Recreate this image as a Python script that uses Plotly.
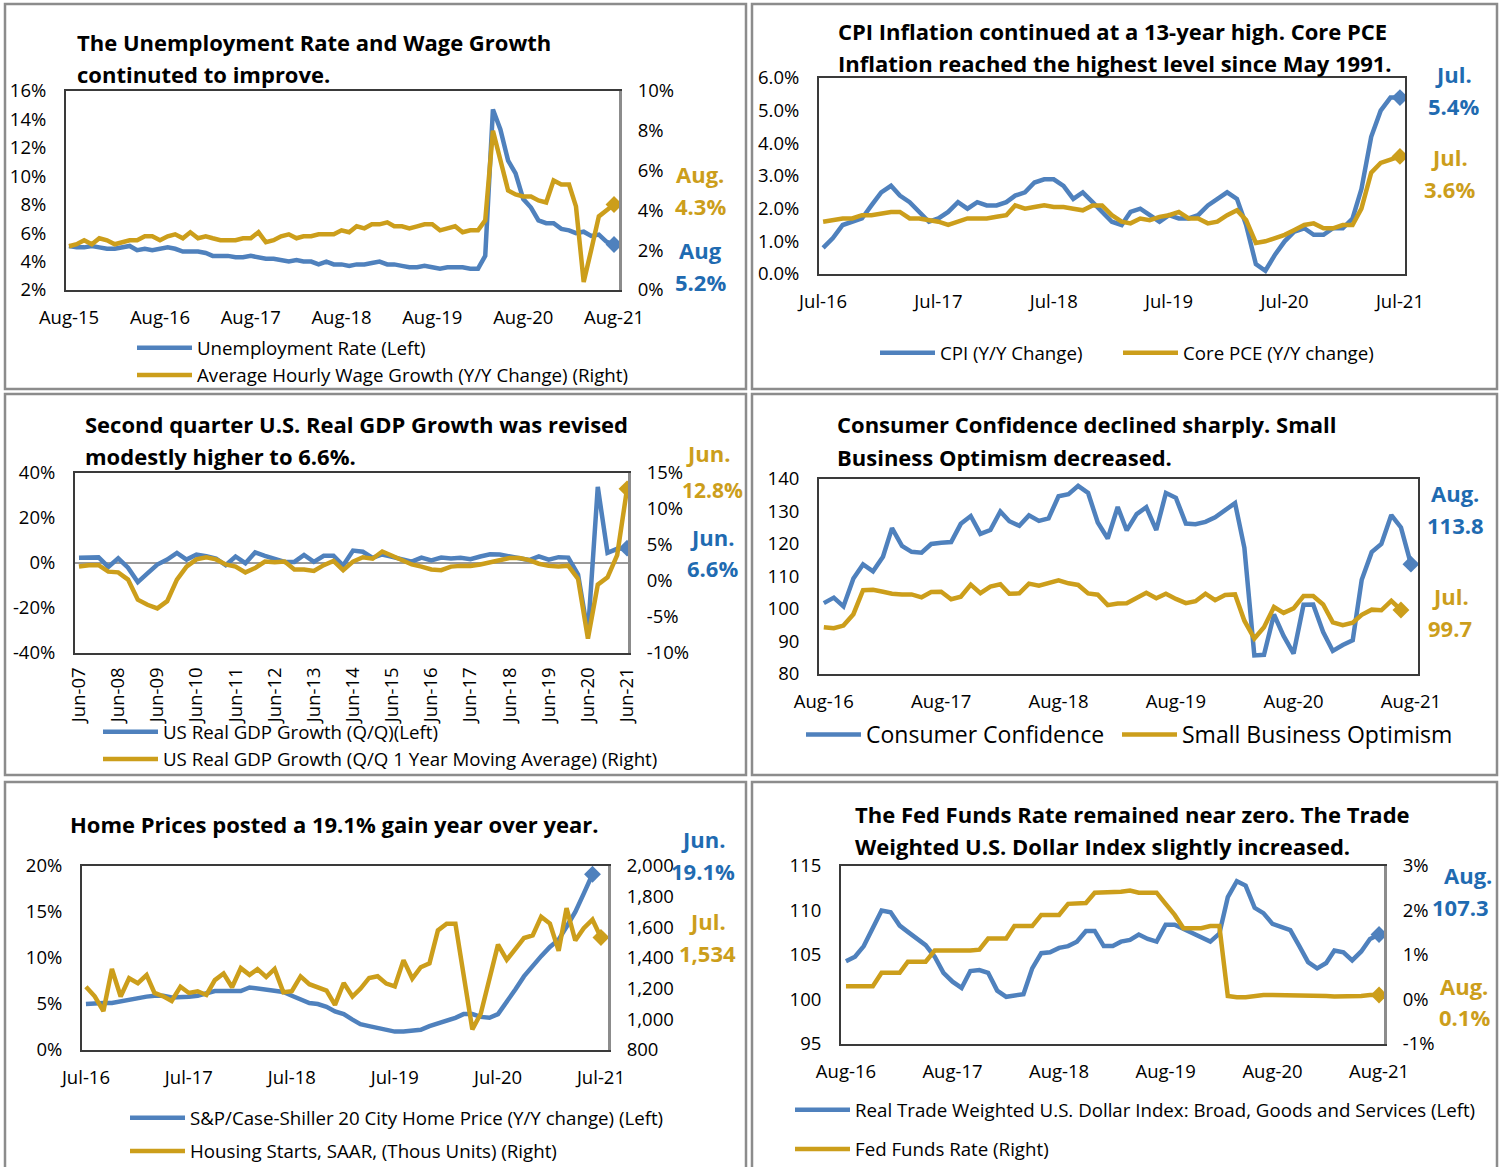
import pandas as pd
import plotly.graph_objects as go

W, H = 1501, 1167
FONT = "Open Sans"
BLUE = "#4F81BD"
GOLD = "#CC9E1B"
BLUE_TXT = "#1F6BB1"
GOLD_TXT = "#CC9E1B"

# ---------------- Panel 1: Unemployment & wages (Aug-15 .. Aug-21)
p1_dates = pd.date_range("2015-08-01", periods=73, freq="MS")
unemployment_rate = [5.1, 5.0, 5.0, 5.1, 5.0,
                     4.9, 4.9, 5.0, 5.1, 4.8, 4.9, 4.8, 4.9, 5.0, 4.9, 4.7, 4.7,
                     4.7, 4.6, 4.4, 4.4, 4.4, 4.3, 4.3, 4.4, 4.3, 4.2, 4.2, 4.1,
                     4.0, 4.1, 4.0, 4.0, 3.8, 4.0, 3.8, 3.8, 3.7, 3.8, 3.8, 3.9,
                     4.0, 3.8, 3.8, 3.7, 3.6, 3.6, 3.7, 3.6, 3.5, 3.6, 3.6, 3.6,
                     3.5, 3.5, 4.4, 14.7, 13.3, 11.1, 10.2, 8.4, 7.8, 6.9, 6.7, 6.7,
                     6.3, 6.2, 6.0, 6.1, 5.8, 5.9, 5.4, 5.2]
wage_growth = [2.2, 2.3, 2.5, 2.3, 2.6,
               2.5, 2.3, 2.4, 2.5, 2.5, 2.7, 2.7, 2.5, 2.7, 2.8, 2.6, 2.9,
               2.6, 2.7, 2.6, 2.5, 2.5, 2.5, 2.6, 2.6, 2.9, 2.4, 2.5, 2.7,
               2.8, 2.6, 2.7, 2.7, 2.8, 2.8, 2.8, 3.0, 2.9, 3.2, 3.1, 3.3,
               3.3, 3.4, 3.2, 3.2, 3.1, 3.2, 3.3, 3.3, 3.0, 3.1, 3.2, 2.9,
               3.0, 3.0, 3.5, 8.0, 6.6, 5.0, 4.8, 4.7, 4.7, 4.5, 4.4, 5.5,
               5.3, 5.3, 4.2, 0.4, 2.0, 3.7, 4.0, 4.3]
p1_left_ticks = [2, 4, 6, 8, 10, 12, 14, 16]
p1_left_labels = ["2%", "4%", "6%", "8%", "10%", "12%", "14%", "16%"]
p1_right_ticks = [0, 2, 4, 6, 8, 10]
p1_right_labels = ["0%", "2%", "4%", "6%", "8%", "10%"]

# ---------------- Panel 2: CPI & core PCE (Jul-16 .. Jul-21)
p2_dates = pd.date_range("2016-07-01", periods=61, freq="MS")
cpi_yoy = [0.8, 1.1, 1.5, 1.6, 1.7, 2.1,
           2.5, 2.7, 2.4, 2.2, 1.9, 1.6, 1.7, 1.9, 2.2, 2.0, 2.2, 2.1,
           2.1, 2.2, 2.4, 2.5, 2.8, 2.9, 2.9, 2.7, 2.3, 2.5, 2.2, 1.9,
           1.6, 1.5, 1.9, 2.0, 1.8, 1.6, 1.8, 1.7, 1.7, 1.8, 2.1, 2.3,
           2.5, 2.3, 1.5, 0.3, 0.1, 0.6, 1.0, 1.3, 1.4, 1.2, 1.2, 1.4,
           1.4, 1.7, 2.6, 4.2, 5.0, 5.4, 5.4]
core_pce_yoy = [1.6, 1.65, 1.7, 1.7, 1.8, 1.8,
                1.85, 1.9, 1.9, 1.7, 1.7, 1.65, 1.6, 1.5, 1.6, 1.7, 1.7, 1.7,
                1.75, 1.8, 2.1, 2.0, 2.05, 2.1, 2.05, 2.05, 2.0, 1.95, 2.1, 2.1,
                1.8, 1.6, 1.55, 1.7, 1.65, 1.75, 1.8, 1.9, 1.7, 1.7, 1.55, 1.6,
                1.8, 1.95, 1.65, 0.95, 1.0, 1.1, 1.2, 1.35, 1.5, 1.55, 1.4, 1.4,
                1.5, 1.5, 2.0, 3.1, 3.4, 3.5, 3.6]
p2_ticks = [0, 1, 2, 3, 4, 5, 6]
p2_labels = ["0.0%", "1.0%", "2.0%", "3.0%", "4.0%", "5.0%", "6.0%"]

# ---------------- Panel 3: GDP (quarterly Jun-07 .. Jun-21)
p3_dates = pd.date_range("2007-06-01", periods=57, freq="3MS")
gdp_qq = [2.3, 2.2, 2.5,
          -1.7, 2.1, -2.1, -8.5,
          -4.6, -0.7, 1.5, 4.5,
          1.5, 3.7, 3.0, 2.0,
          -1.0, 2.9, -0.1, 4.7,
          3.2, 1.7, 0.5, 0.5,
          3.6, 0.5, 3.2, 3.2,
          -1.1, 5.5, 5.0, 2.3,
          3.8, 2.7, 1.5, 0.6,
          2.4, 1.2, 2.4, 2.0,
          2.3, 1.7, 2.9, 3.9,
          3.8, 2.7, 2.1, 1.3,
          2.9, 1.5, 2.6, 2.4,
          -5.1, -31.2, 33.8, 4.5,
          6.3, 6.6]
gdp_ma = [2.0, 2.2, 2.2, 1.3, 1.2, 0.2, -2.6, -3.3, -3.8, -2.8,
          0.2, 2.0, 3.0, 3.3, 3.0, 2.3, 2.0, 1.2, 1.8, 2.7,
          2.6, 2.7, 1.6, 1.6, 1.4, 2.2, 2.8, 1.5, 2.7, 3.3,
          3.1, 4.1, 3.5, 2.9, 2.3, 2.0, 1.6, 1.5, 2.0, 2.1,
          2.1, 2.3, 2.6, 2.9, 3.2, 3.2, 2.9, 2.4, 2.1, 2.0,
          2.1, 0.3, -8.0, -0.5, 0.5, 3.6, 12.8]
p3_left_ticks = [-40, -20, 0, 20, 40]
p3_left_labels = ["-40%", "-20%", "0%", "20%", "40%"]
p3_right_ticks = [-10, -5, 0, 5, 10, 15]
p3_right_labels = ["-10%", "-5%", "0%", "5%", "10%", "15%"]

# ---------------- Panel 4: Confidence (Aug-16 .. Aug-21)
p4_dates = pd.date_range("2016-08-01", periods=61, freq="MS")
consumer_confidence = [101.8, 103.5, 100.8, 109.4, 113.7,
                       111.6, 116.1, 124.9, 119.4, 117.6, 117.3, 120.0, 120.4, 120.6, 126.2, 128.6, 123.1,
                       124.3, 130.0, 127.0, 125.6, 128.8, 127.1, 127.9, 134.7, 135.3, 137.9, 135.7, 126.6,
                       121.7, 131.4, 124.2, 129.2, 131.3, 124.3, 135.7, 134.2, 126.3, 126.1, 126.8, 128.2,
                       130.4, 132.6, 118.8, 85.7, 85.9, 98.3, 91.7, 86.3, 101.3, 101.4, 92.9, 87.1,
                       88.9, 90.4, 109.0, 117.5, 120.0, 128.9, 125.1, 113.8]
small_business_optimism = [94.4, 94.1, 94.9, 98.4, 105.8,
                           105.9, 105.3, 104.7, 104.5, 104.5, 103.6, 105.2, 105.3, 103.0, 103.8, 107.5, 104.9,
                           106.9, 107.6, 104.7, 104.8, 107.8, 107.2, 107.9, 108.8, 107.9, 107.4, 104.8, 104.4,
                           101.2, 101.7, 101.8, 103.5, 105.0, 103.3, 104.7, 103.1, 101.8, 102.4, 104.7, 102.7,
                           104.3, 104.5, 96.4, 90.9, 94.4, 100.6, 98.8, 100.2, 104.0, 104.0, 101.4, 95.9,
                           95.0, 95.8, 98.2, 99.8, 99.6, 102.5, 99.7]
p4_ticks = [80, 90, 100, 110, 120, 130, 140]
p4_labels = ["80", "90", "100", "110", "120", "130", "140"]

# ---------------- Panel 5: Home prices & housing starts (Jul-16 .. Jul-21)
p5_dates = pd.date_range("2016-07-01", periods=61, freq="MS")
case_shiller_yoy = [5.0, 5.1, 5.1, 5.1, 5.3, 5.5,
                    5.7, 5.8, 5.9, 5.9, 5.7, 5.7, 5.8, 5.9, 6.2, 6.4, 6.4, 6.4,
                    6.4, 6.8, 6.7, 6.6, 6.4, 6.3, 5.9, 5.5, 5.1, 5.0, 4.7, 4.2,
                    3.9, 3.3, 2.8, 2.6, 2.4, 2.1, 2.0, 2.0, 2.1, 2.2, 2.6, 2.9,
                    3.1, 3.5, 3.9, 3.9, 3.6, 3.5, 3.9, 5.2, 6.6, 8.0, 9.2, 10.2,
                    11.2, 12.0, 13.4, 15.0, 17.0, 19.1]
housing_starts = [1212, 1150, 1054, 1328, 1149, 1268,
                  1236, 1289, 1172, 1150, 1120, 1213, 1172, 1183, 1159, 1256, 1299, 1209,
                  1334, 1290, 1327, 1276, 1329, 1177, 1184, 1280, 1229, 1209, 1187, 1094,
                  1237, 1149, 1199, 1270, 1281, 1233, 1215, 1386, 1266, 1340, 1365, 1580,
                  1624, 1624, 1276, 934, 1038, 1273, 1487, 1388, 1459, 1530, 1547, 1669,
                  1625, 1447, 1725, 1514, 1594, 1650, 1534]
p5_left_ticks = [0, 5, 10, 15, 20]
p5_left_labels = ["0%", "5%", "10%", "15%", "20%"]
p5_right_ticks = [800, 1000, 1200, 1400, 1600, 1800, 2000]
p5_right_labels = ["800", "1,000", "1,200", "1,400", "1,600", "1,800", "2,000"]

# ---------------- Panel 6: Dollar index & Fed funds (Aug-16 .. Aug-21)
p6_dates = pd.date_range("2016-08-01", periods=61, freq="MS")
dollar_index = [104.3, 104.8, 106.0, 108.0, 110.0, 109.8, 108.3, 107.6, 106.8, 106.1,
                104.8, 103.0, 102.0, 101.3, 103.2, 103.3, 103.0, 101.0, 100.3, 100.4,
                100.6, 103.5, 105.2, 105.3, 105.8, 106.0, 106.5, 107.7, 107.7, 106.0,
                106.0, 106.5, 106.7, 107.3, 106.8, 106.5, 108.4, 108.4, 107.9, 107.5,
                107.0, 106.5, 107.4, 111.5, 113.3, 112.8, 110.3, 109.7, 108.5, 108.1,
                107.8, 106.0, 104.2, 103.5, 104.1, 105.5, 105.3, 104.4, 105.4, 106.8,
                107.3]
fed_funds = [0.3, 0.3, 0.3, 0.3, 0.6, 0.6, 0.6, 0.85, 0.85, 0.85,
             1.1, 1.1, 1.1, 1.08, 1.1, 1.12, 1.37, 1.37, 1.37, 1.65,
             1.65, 1.65, 1.9, 1.9, 1.9, 2.15, 2.17, 2.17, 2.4, 2.4,
             2.4, 2.42, 2.45, 2.4, 2.4, 2.4, 2.15, 1.9, 1.6, 1.6,
             1.6, 1.65, 1.65, 0.08, 0.05, 0.05, 0.08, 0.1, 0.1, 0.1,
             0.09, 0.09, 0.09, 0.09, 0.08, 0.07, 0.07, 0.06, 0.08, 0.1,
             0.1]
p6_left_ticks = [95, 100, 105, 110, 115]
p6_left_labels = ["95", "100", "105", "110", "115"]
p6_right_ticks = [-1, 0, 1, 2, 3]
p6_right_labels = ["-1%", "0%", "1%", "2%", "3%"]


def px(x):
    return x / W


def py(y):
    return 1 - y / H


def xname(p):
    return "x" if p == 1 else f"x{p}"


def yname(p, right=False):
    if right:
        return f"y{p + 6}"
    return "y" if p == 1 else f"y{p}"


def lkey(name):
    return name.replace("x", "xaxis").replace("y", "yaxis")


fig = go.Figure()
layout = {}
annotations = []
shapes = []

TICKFONT = dict(family=FONT, size=18.5, color="black")
LEGSIZE = 18.7


def add_series(p, x, y, color, name, legend, group, right=False, width=4.5):
    fig.add_trace(go.Scatter(x=x, y=y, name=name, mode="lines",
                             line=dict(color=color, width=width),
                             xaxis=xname(p), yaxis=yname(p, right),
                             legend=legend, legendgroup=group))
    fig.add_trace(go.Scatter(x=[x[-1]], y=[y[-1]], mode="markers", showlegend=False,
                             marker=dict(symbol="diamond", size=13, color=color),
                             xaxis=xname(p), yaxis=yname(p, right), hoverinfo="skip"))


def setup_axes(p, box, first, last, pad_l, pad_r, ltv, ltt, lrange, rtv=None, rtt=None,
               rrange=None, xangle=0, xstand=10):
    x0, y0, x1, y1 = box
    xr = [first - pd.Timedelta(days=pad_l), last + pd.Timedelta(days=pad_r)]
    layout[lkey(xname(p))] = dict(
        domain=[px(x0), px(x1)], anchor=yname(p), range=xr, type="date",
        tick0=first, dtick="M12", tickformat="%b-%y", tickangle=xangle,
        showgrid=False, zeroline=False, showline=True, mirror=True,
        linecolor="#3a3a3a", linewidth=2, ticks="", tickfont=TICKFONT,
        ticklabelstandoff=xstand)
    ly = dict(domain=[py(y1), py(y0)], anchor=xname(p), range=lrange,
              tickmode="array", tickvals=ltv, ticktext=ltt,
              showgrid=False, zeroline=False, showline=True, linecolor="#3a3a3a",
              linewidth=2, ticks="", tickfont=TICKFONT, ticklabelstandoff=14)
    layout[lkey(yname(p))] = ly
    if rrange is not None:
        ry = dict(overlaying=yname(p), side="right", anchor=xname(p), range=rrange,
                  tickmode="array", tickvals=rtv, ticktext=rtt,
                  showgrid=False, zeroline=False, showline=True, linecolor="#8c8c8c",
                  linewidth=3, ticks="", tickfont=TICKFONT, ticklabelstandoff=12)
        layout[lkey(yname(p, True))] = ry
    else:
        layout[lkey(yname(p))].update(mirror=True)


def text(x, y, s, size=22, color="black", bold=True, anchor="left"):
    annotations.append(dict(x=px(x), y=py(y), xref="paper", yref="paper", showarrow=False,
                            text=f"<b>{s}</b>" if bold else s, xanchor=anchor, yanchor="middle",
                            font=dict(family=FONT, size=size, color=color)))


def frame(x0, y0, x1, y1):
    shapes.append(dict(type="rect", xref="paper", yref="paper", x0=px(x0), x1=px(x1),
                       y0=py(y1), y1=py(y0), line=dict(color="#8c8c8c", width=2.5),
                       layer="below"))


frame(5, 4, 746, 389)
frame(752, 4, 1497, 389)
frame(5, 394, 746, 775)
frame(752, 394, 1497, 775)
frame(5, 782, 746, 1175)
frame(752, 782, 1497, 1175)

# ---- Panel 1
setup_axes(1, (66, 91, 619, 290), p1_dates[0], p1_dates[-1], 12, 20,
           p1_left_ticks, p1_left_labels, [2, 16],
           p1_right_ticks, p1_right_labels, [0, 10])
add_series(1, p1_dates, unemployment_rate, BLUE, "Unemployment Rate (Left)", "legend", "a")
add_series(1, p1_dates, wage_growth, GOLD, "Average Hourly Wage Growth (Y/Y Change) (Right)",
           "legend", "b", right=True)
text(75, 42, "The Unemployment Rate and Wage Growth")
text(75, 74, "continuted to improve.")
text(700, 174, "Aug.", color=GOLD_TXT, anchor="center")
text(700, 206, "4.3%", color=GOLD_TXT, anchor="center")
text(700, 250, "Aug", color=BLUE_TXT, anchor="center")
text(700, 282, "5.2%", color=BLUE_TXT, anchor="center")

# ---- Panel 2
setup_axes(2, (819, 78, 1405, 274), p2_dates[0], p2_dates[-1], 13, 16,
           p2_ticks, p2_labels, [0, 6])
add_series(2, p2_dates, cpi_yoy, BLUE, "CPI (Y/Y Change)", "legend2", "a")
add_series(2, p2_dates, core_pce_yoy, GOLD, "Core PCE (Y/Y change)", "legend8", "b")
text(836, 31, "CPI Inflation continued at a 13-year high. Core PCE")
text(836, 63, "Inflation reached the highest level since May 1991.")
text(1453, 74, "Jul.", color=BLUE_TXT, anchor="center")
text(1453, 106, "5.4%", color=BLUE_TXT, anchor="center")
text(1449, 157, "Jul.", color=GOLD_TXT, anchor="center")
text(1449, 189, "3.6%", color=GOLD_TXT, anchor="center")

# ---- Panel 3
setup_axes(3, (75, 473, 628, 653), p3_dates[0], p3_dates[-1], 37, 9,
           p3_left_ticks, p3_left_labels, [-40, 40],
           p3_right_ticks, p3_right_labels, [-10, 15],
           xangle=-90, xstand=5)
layout["yaxis3"].update(zeroline=True, zerolinecolor="#9a9a9a", zerolinewidth=2)
add_series(3, p3_dates, gdp_qq, BLUE, "US Real GDP Growth (Q/Q)(Left)", "legend3", "a")
add_series(3, p3_dates, gdp_ma, GOLD, "US Real GDP Growth (Q/Q 1 Year Moving Average) (Right)",
           "legend3", "b", right=True)
text(83, 424, "Second quarter U.S. Real GDP Growth was revised")
text(83, 456, "modestly higher to 6.6%.")
text(708, 453, "Jun.", color=GOLD_TXT, anchor="center")
text(712, 490, "12.8%", size=21, color=GOLD_TXT, anchor="center")
text(712, 537, "Jun.", color=BLUE_TXT, anchor="center")
text(712, 568, "6.6%", color=BLUE_TXT, anchor="center")

# ---- Panel 4
setup_axes(4, (819, 479, 1418, 674), p4_dates[0], p4_dates[-1], 15, 22,
           p4_ticks, p4_labels, [80, 140])
add_series(4, p4_dates, consumer_confidence, BLUE, "Consumer Confidence", "legend4", "a")
add_series(4, p4_dates[:len(small_business_optimism)], small_business_optimism, GOLD,
           "Small Business Optimism", "legend7", "b")
text(835, 424, "Consumer Confidence declined sharply. Small")
text(835, 457, "Business Optimism decreased.")
text(1455, 493, "Aug.", color=BLUE_TXT, anchor="center")
text(1455, 525, "113.8", color=BLUE_TXT, anchor="center")
text(1450, 596, "Jul.", color=GOLD_TXT, anchor="center")
text(1450, 628, "99.7", color=GOLD_TXT, anchor="center")

# ---- Panel 5
setup_axes(5, (82, 866, 608, 1050), p5_dates[0], p5_dates[-1], 14, 25,
           p5_left_ticks, p5_left_labels, [0, 20],
           p5_right_ticks, p5_right_labels, [800, 2000])
add_series(5, p5_dates[:len(case_shiller_yoy)], case_shiller_yoy, BLUE,
           "S&P/Case-Shiller 20 City Home Price (Y/Y change) (Left)", "legend5", "a")
add_series(5, p5_dates, housing_starts, GOLD, "Housing Starts, SAAR, (Thous Units) (Right)",
           "legend5", "b", right=True)
text(68, 824, "Home Prices posted a 19.1% gain year over year.")
text(703, 839, "Jun.", color=BLUE_TXT, anchor="center")
text(703, 871, "19.1%", color=BLUE_TXT, anchor="center")
text(707, 921, "Jul.", color=GOLD_TXT, anchor="center")
text(707, 953, "1,534", color=GOLD_TXT, anchor="center")

# ---- Panel 6
setup_axes(6, (841, 866, 1384, 1044), p6_dates[0], p6_dates[-1], 17, 17,
           p6_left_ticks, p6_left_labels, [95, 115],
           p6_right_ticks, p6_right_labels, [-1, 3])
add_series(6, p6_dates, dollar_index, BLUE,
           "Real Trade Weighted U.S. Dollar Index: Broad, Goods and Services (Left)", "legend6", "a")
add_series(6, p6_dates, fed_funds, GOLD, "Fed Funds Rate (Right)", "legend6", "b", right=True)
text(853, 814, "The Fed Funds Rate remained near zero. The Trade")
text(853, 846, "Weighted U.S. Dollar Index slightly increased.")
text(1468, 875, "Aug.", color=BLUE_TXT, anchor="center")
text(1460, 907, "107.3", color=BLUE_TXT, anchor="center")
text(1464, 986, "Aug.", color=GOLD_TXT, anchor="center")
text(1464, 1017, "0.1%", color=GOLD_TXT, anchor="center")


def vlegend(x, y, size=LEGSIZE, gap=0):
    return dict(x=px(x), y=py(y), xanchor="left", yanchor="top", orientation="v",
                font=dict(family=FONT, size=size, color="black"), bgcolor="rgba(0,0,0,0)",
                itemwidth=55, tracegroupgap=gap, traceorder="grouped")


layout["legend"] = vlegend(132, 329)
layout["legend2"] = vlegend(875, 334)
layout["legend8"] = vlegend(1118, 334)
layout["legend3"] = vlegend(98, 713)
layout["legend4"] = vlegend(801, 713, size=23)
layout["legend7"] = vlegend(1117, 713, size=23)
layout["legend5"] = vlegend(125, 1099, gap=6)
layout["legend6"] = vlegend(790, 1091, gap=12)

fig.update_layout(
    width=W, height=H, margin=dict(l=0, r=0, t=0, b=0, autoexpand=False),
    paper_bgcolor="white", plot_bgcolor="white",
    font=dict(family=FONT, size=18, color="black"),
    annotations=annotations, shapes=shapes, showlegend=True,
    **layout)

fig.write_html("out.html", config={"displayModeBar": False},
               post_script="document.body.style.margin='0px';")
